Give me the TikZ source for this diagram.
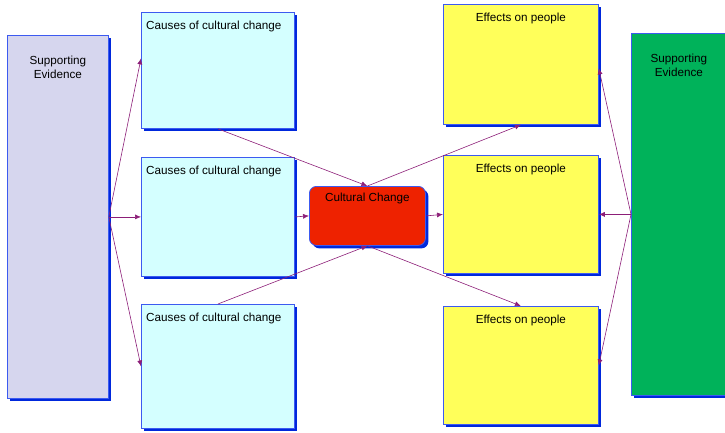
\documentclass[tikz,border=0pt]{standalone}
\usepackage{fontspec}
\setmainfont{Liberation Sans}
\usepackage{tikz}
\usetikzlibrary{arrows.meta}
\usetikzlibrary{shadows}
\definecolor{boxline}{RGB}{60,90,240}
\definecolor{shadowblue}{RGB}{0,40,220}
\definecolor{evidlav}{RGB}{214,214,238}
\definecolor{evidgreen}{RGB}{0,178,90}
\definecolor{causecyan}{RGB}{212,255,255}
\definecolor{effyellow}{RGB}{255,255,90}
\definecolor{changered}{RGB}{238,34,0}
\definecolor{linkpurple}{RGB}{140,30,120}
\tikzset{box/.style = {draw = boxline, line width = 0.8, anchor = north west, inner sep = 0,
                       drop shadow = {shadow xshift = 3pt, shadow yshift = -3pt,
                                      fill = shadowblue, opacity = 1}}}
\tikzset{evid/.style = {box, label = {[anchor = north, yshift = -21pt, align = center,
                                       inner sep = 0]north:Supporting\\Evidence}}}
\tikzset{cause/.style = {box, fill = causecyan, minimum width = 153,
                         label = {[anchor = north west, xshift = 5pt, yshift = -9pt,
                                   inner sep = 0]north west:Causes of cultural change}}}
\tikzset{effect/.style = {box, fill = effyellow, minimum width = 155,
                          label = {[anchor = north, yshift = -9pt,
                                    inner sep = 0]north:Effects on people}}}
\tikzset{link/.style = {draw = linkpurple, line width = 0.6,
                        -{Latex[length = 6pt, width = 5pt]}}}

\begin{document}
\begin{tikzpicture}[x = 1pt, y = -1pt, font = \fontsize{11.7}{14}\selectfont]
  \useasboundingbox (0, 0) rectangle (725, 432);
  \node [evid, fill = evidlav, minimum width = 101, minimum height = 363] (evleft) at (7, 35) {};
  \node [evid, fill = evidgreen, minimum width = 95, minimum height = 362] (evright) at (631, 33) {};
  \node [cause, minimum height = 116] (c1) at (141, 12) {};
  \node [cause, minimum height = 119] (c2) at (141, 157) {};
  \node [cause, minimum height = 124] (c3) at (141, 304) {};
  \node [effect, minimum height = 120] (e1) at (443, 4) {};
  \node [effect, minimum height = 118] (e2) at (443, 155) {};
  \node [effect, minimum height = 118] (e3) at (443, 306) {};
  \node [box, fill = changered, rounded corners = 7, minimum width = 116, minimum height = 59,
         label = {[anchor = north, yshift = -7pt, inner sep = 0]north:Cultural Change}] (change) at (309, 186) {};
  % evidence to causes
  \draw [link] (evleft.east) -- ([yshift = 12pt]c1.west);
  \draw [link] (evleft.east) -- (c2.west);
  \draw [link] (evleft.east) -- (c3.west);
  % causes to change
  \draw [link] (c1.south) -- (change.north);
  \draw [link] (c2.east) -- (change.west);
  \draw [link] (c3.north) -- (change.south);
  % change to effects
  \draw [link] (change.north) -- (e1.south);
  \draw [link] (change.east) -- (e2.west);
  \draw [link] (change.south) -- (e3.north);
  % evidence to effects
  \draw [link] (evright.west) -- ([yshift = -4pt]e1.east);
  \draw [link] (evright.west) -- (e2.east);
  \draw [link] (evright.west) -- (e3.east);
\end{tikzpicture}
\end{document}
